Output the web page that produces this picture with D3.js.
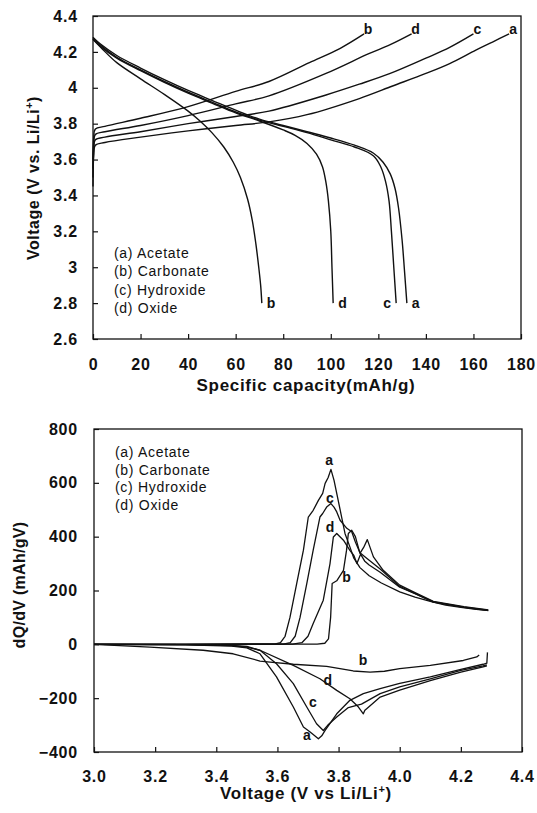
<!DOCTYPE html>
<html>
<head>
<meta charset="utf-8">
<script src="https://cdn.jsdelivr.net/npm/d3@7"></script>
<style>
  body { margin: 0; background: #fff; }
  svg text { font-family: "Liberation Sans", Arial, sans-serif; fill: #111; }
</style>
</head>
<body>
<script>
// ---- data: top panel (specific capacity mAh/g, voltage V) ----
var capTicks = [0, 20, 40, 60, 80, 100, 120, 140, 160, 180];
var voltTicks = [2.6, 2.8, 3, 3.2, 3.4, 3.6, 3.8, 4, 4.2, 4.4];
var legendLabels = ["(a) Acetate", "(b) Carbonate", "(c) Hydroxide", "(d) Oxide"];
var seriesNames = ["a", "b", "c", "d"];

var chargeA = [[0,3.45],[0.3,3.62],[1,3.68],[5,3.695],[20,3.725],[40,3.76],[60,3.79],[74,3.81],[90,3.85],[112,3.94],[126,4.01],[140,4.08],[150,4.135],[161,4.21],[168,4.255],[175,4.3]];
var chargeB = [[0,3.6],[0.3,3.72],[1,3.77],[5,3.785],[20,3.83],[40,3.895],[60,3.98],[74,4.035],[91,4.14],[104,4.22],[114,4.3]];
var chargeC = [[0,3.5],[0.3,3.65],[1,3.71],[5,3.725],[20,3.755],[40,3.8],[60,3.84],[74,3.87],[98,3.96],[112,4.02],[125,4.08],[140,4.165],[150,4.225],[160,4.3]];
var chargeD = [[0,3.55],[0.3,3.68],[1,3.74],[5,3.755],[20,3.79],[40,3.845],[60,3.91],[74,3.955],[98,4.08],[116,4.19],[125,4.24],[134,4.3]];

var dischA = [[0,4.28],[3,4.245],[10,4.18],[20,4.11],[30,4.045],[40,3.985],[50,3.93],[60,3.875],[70,3.825],[80,3.79],[90,3.755],[100,3.72],[110,3.68],[118,3.635],[122,3.585],[125,3.52],[127,3.44],[128.5,3.33],[130,3.15],[131,2.98],[132,2.8]];
var dischB = [[0,4.27],[4,4.215],[10,4.14],[20,4.05],[30,3.963],[40,3.87],[45,3.815],[50,3.75],[55,3.67],[59,3.585],[62,3.5],[65,3.38],[67,3.26],[68.5,3.13],[69.7,3.0],[70.5,2.9],[71,2.8]];
var dischC = [[0,4.28],[3,4.24],[10,4.17],[20,4.1],[30,4.035],[40,3.975],[50,3.92],[60,3.865],[70,3.82],[80,3.785],[90,3.75],[100,3.71],[110,3.67],[118,3.62],[121,3.56],[123,3.48],[124.5,3.37],[125.5,3.2],[126.5,3.0],[127.5,2.8]];
var dischD = [[0,4.27],[3,4.232],[10,4.165],[20,4.095],[30,4.03],[40,3.97],[50,3.915],[60,3.86],[70,3.815],[80,3.765],[85,3.735],[90,3.69],[94,3.63],[96.5,3.56],[98,3.47],[99,3.37],[100,3.2],[100.5,3.0],[101,2.8]];

// ---- data: bottom panel (voltage V, dQ/dV mAh/gV) ----
var vTicks = [3.0, 3.2, 3.4, 3.6, 3.8, 4.0, 4.2, 4.4];
var dqTicks = [-400, -200, 0, 200, 400, 600, 800];

var chgA = [[3.0,0],[3.3,0],[3.59,1],[3.61,6],[3.625,30],[3.641,100],[3.663,226],[3.685,350],[3.701,473],[3.717,498],[3.734,535],[3.748,561],[3.756,598],[3.766,620],[3.775,650],[3.785,610],[3.794,561],[3.81,473],[3.821,412],[3.837,362],[3.85,320],[3.87,285],[3.9,255],[3.94,228],[4.0,195],[4.05,175],[4.1,160],[4.15,146],[4.2,137],[4.25,130],[4.285,126]];
var chgB = [[3.0,0],[3.3,0],[3.73,1],[3.755,4],[3.767,20],[3.774,100],[3.779,226],[3.794,236],[3.816,275],[3.826,349],[3.832,412],[3.843,424],[3.855,400],[3.87,338],[3.882,360],[3.894,389],[3.914,325],[3.946,275],[4.0,220],[4.05,192],[4.11,160],[4.21,140],[4.29,128]];
var chgC = [[3.0,0],[3.3,0],[3.62,1],[3.642,6],[3.658,30],[3.674,100],[3.696,226],[3.717,350],[3.739,473],[3.748,486],[3.761,510],[3.775,523],[3.785,510],[3.794,492],[3.805,461],[3.827,431],[3.843,418],[3.855,380],[3.87,340],[3.892,320],[3.936,280],[4.0,215],[4.044,192],[4.11,158],[4.21,138],[4.288,127]];
var chgD = [[3.0,0],[3.3,0],[3.65,1],[3.68,6],[3.7,30],[3.717,77],[3.75,164],[3.772,300],[3.783,399],[3.794,412],[3.816,387],[3.837,349],[3.85,330],[3.86,300],[3.872,335],[3.885,310],[3.9,295],[3.936,268],[4.0,212],[4.05,188],[4.11,157],[4.21,137],[4.29,125]];

var disA = [[3.0,0],[3.3,-2],[3.45,-7],[3.5,-13],[3.543,-35],[3.597,-121],[3.652,-233],[3.685,-307],[3.707,-326],[3.734,-351],[3.745,-340],[3.756,-320],[3.794,-258],[3.837,-208],[3.881,-183],[3.936,-165],[4.0,-145],[4.1,-121],[4.2,-93],[4.273,-74],[4.285,-70],[4.287,-30]];
var disB = [[3.0,0],[3.183,-10],[3.357,-22],[3.455,-35],[3.543,-62],[3.576,-66],[3.652,-74],[3.761,-82],[3.848,-99],[3.903,-103],[3.95,-100],[4.0,-90],[4.1,-78],[4.208,-60],[4.252,-47],[4.26,-40]];
var disC = [[3.0,0],[3.3,-1],[3.45,-5],[3.5,-10],[3.543,-22],[3.597,-72],[3.652,-146],[3.696,-233],[3.728,-295],[3.75,-320],[3.765,-300],[3.794,-270],[3.832,-235],[3.859,-227],[3.875,-222],[3.936,-183],[4.0,-158],[4.1,-128],[4.2,-97],[4.273,-80],[4.285,-76]];
var disD = [[3.0,0],[3.3,-1],[3.45,-4],[3.5,-8],[3.543,-22],[3.652,-78],[3.739,-128],[3.794,-171],[3.837,-202],[3.865,-233],[3.881,-258],[3.886,-245],[3.892,-239],[3.936,-196],[4.0,-170],[4.1,-135],[4.2,-103],[4.273,-84],[4.285,-80]];

// label anchors (data units)
var chgLabelAt = [[3.769,684],[3.826,250],[3.772,543],[3.772,435]];
var disLabelAt = [[3.696,-338],[3.88,-60],[3.716,-214],[3.765,-134]];

var width = 537;
var height = 813;
var svg = d3.select("body").append("svg")
  .attr("width", width)
  .attr("height", height);

function frame(g, x, y) {
  g.append("rect")
    .attr("x", x.range()[0])
    .attr("y", y.range()[1])
    .attr("width", x.range()[1] - x.range()[0])
    .attr("height", y.range()[0] - y.range()[1])
    .attr("fill", "none")
    .attr("stroke", "#111")
    .attr("stroke-width", 1.3);
}

function styleAxis(g, size) {
  g.select(".domain").remove();
  g.selectAll(".tick line").attr("stroke", "#111").attr("stroke-width", 1.2);
  g.selectAll(".tick text")
    .attr("font-size", size)
    .attr("font-weight", "bold")
    .attr("letter-spacing", 0.8)
    .attr("fill", "#111")
    .attr("font-family", "Liberation Sans, Arial, sans-serif");
}

// ================= top panel =================
var x1 = d3.scaleLinear().domain([0, 180]).range([93, 521]);
var y1 = d3.scaleLinear().domain([2.6, 4.4]).range([339, 16]);
var topG = svg.append("g");

topG.append("g")
  .attr("transform", "translate(0," + y1(2.6) + ")")
  .call(d3.axisBottom(x1).tickValues(capTicks).tickSize(-5).tickPadding(20).tickFormat(d3.format("d")))
  .call(styleAxis, 16);
topG.append("g")
  .attr("transform", "translate(" + x1(0) + ",0)")
  .call(d3.axisLeft(y1).tickValues(voltTicks).tickSize(-5).tickPadding(15).tickFormat(d3.format("~g")))
  .call(styleAxis, 16);
frame(topG, x1, y1);

var line1 = d3.line()
  .x(function(d){ return x1(d[0]); })
  .y(function(d){ return y1(d[1]); })
  .curve(d3.curveCatmullRom.alpha(0.5));

var charges = [chargeA, chargeB, chargeC, chargeD];
var discharges = [dischA, dischB, dischC, dischD];

topG.selectAll("path.chg")
  .data(charges.concat(discharges))
  .enter()
  .append("path")
  .attr("d", line1)
  .attr("fill", "none")
  .attr("stroke", "#111")
  .attr("stroke-width", 1.4);

// curve end labels
topG.selectAll("text.endTop")
  .data(charges)
  .enter()
  .append("text")
  .text(function(d, i){ return seriesNames[i]; })
  .attr("x", function(d){ return x1(d[d.length - 1][0]) + 4; })
  .attr("y", function(d){ return y1(d[d.length - 1][1]); })
  .attr("text-anchor", "middle")
  .attr("font-size", 14)
  .attr("font-weight", "bold");

topG.selectAll("text.endBot")
  .data(discharges)
  .enter()
  .append("text")
  .text(function(d, i){ return seriesNames[i]; })
  .attr("x", function(d, i){
    var p = x1(d[d.length - 1][0]);
    return seriesNames[i] === "c" ? p - 5 : p + 5;
  })
  .attr("y", function(d){ return y1(d[d.length - 1][1]) + 5; })
  .attr("text-anchor", function(d, i){ return seriesNames[i] === "c" ? "end" : "start"; })
  .attr("font-size", 14)
  .attr("font-weight", "bold");

topG.selectAll("text.leg")
  .data(legendLabels)
  .enter()
  .append("text")
  .text(function(d){ return d; })
  .attr("x", 114)
  .attr("y", function(d, i){ return 258 + i * 18.3; })
  .attr("font-size", 14)
  .attr("letter-spacing", 0.7);

topG.append("text")
  .attr("x", 306)
  .attr("y", 391)
  .attr("text-anchor", "middle")
  .attr("font-size", 17)
  .attr("font-weight", "bold")
  .attr("letter-spacing", 0.7)
  .text("Specific capacity(mAh/g)");

var ty1 = topG.append("text")
  .attr("transform", "translate(39,178) rotate(-90)")
  .attr("text-anchor", "middle")
  .attr("font-size", 16)
  .attr("font-weight", "bold")
  .attr("letter-spacing", 0.5);
ty1.append("tspan").text("Voltage (V vs. Li/Li");
ty1.append("tspan").text("+").attr("font-size", 11).attr("dy", -6);
ty1.append("tspan").text(")").attr("dy", 6);

// ================= bottom panel =================
var x2 = d3.scaleLinear().domain([3.0, 4.4]).range([94, 522]);
var y2 = d3.scaleLinear().domain([-400, 800]).range([752, 429]);
var botG = svg.append("g");

botG.append("g")
  .attr("transform", "translate(0," + y2(-400) + ")")
  .call(d3.axisBottom(x2).tickValues(vTicks).tickSize(-5).tickPadding(19).tickFormat(d3.format(".1f")))
  .call(styleAxis, 16);
botG.append("g")
  .attr("transform", "translate(" + x2(3.0) + ",0)")
  .call(d3.axisLeft(y2).tickValues(dqTicks).tickSize(-5).tickPadding(16).tickFormat(d3.format("d")))
  .call(styleAxis, 16);
frame(botG, x2, y2);

var line2 = d3.line()
  .x(function(d){ return x2(d[0]); })
  .y(function(d){ return y2(d[1]); });

var chgSeries = [chgA, chgB, chgC, chgD];
var disSeries = [disA, disB, disC, disD];

botG.selectAll("path.dq")
  .data(chgSeries.concat(disSeries))
  .enter()
  .append("path")
  .attr("d", line2)
  .attr("fill", "none")
  .attr("stroke", "#111")
  .attr("stroke-width", 1.3)
  .attr("stroke-linejoin", "round");

botG.selectAll("text.lc")
  .data(chgLabelAt.concat(disLabelAt))
  .enter()
  .append("text")
  .text(function(d, i){ return seriesNames[i % 4]; })
  .attr("x", function(d){ return x2(d[0]); })
  .attr("y", function(d){ return y2(d[1]); })
  .attr("dy", "0.35em")
  .attr("text-anchor", "middle")
  .attr("font-size", 14)
  .attr("font-weight", "bold");

botG.selectAll("text.leg")
  .data(legendLabels)
  .enter()
  .append("text")
  .text(function(d){ return d; })
  .attr("x", 115)
  .attr("y", function(d, i){ return 457 + i * 17.7; })
  .attr("font-size", 14)
  .attr("letter-spacing", 0.7);

var t2 = botG.append("text")
  .attr("x", 306)
  .attr("y", 799)
  .attr("text-anchor", "middle")
  .attr("font-size", 17)
  .attr("font-weight", "bold")
  .attr("letter-spacing", 0.7);
t2.append("tspan").text("Voltage (V vs Li/Li");
t2.append("tspan").text("+").attr("font-size", 11).attr("dy", -6);
t2.append("tspan").text(")").attr("dy", 6);

botG.append("text")
  .attr("transform", "translate(25,585) rotate(-90)")
  .attr("text-anchor", "middle")
  .attr("font-size", 16)
  .attr("font-weight", "bold")
  .attr("letter-spacing", 0.3)
  .text("dQ/dV (mAh/gV)");
</script>
</body>
</html>
